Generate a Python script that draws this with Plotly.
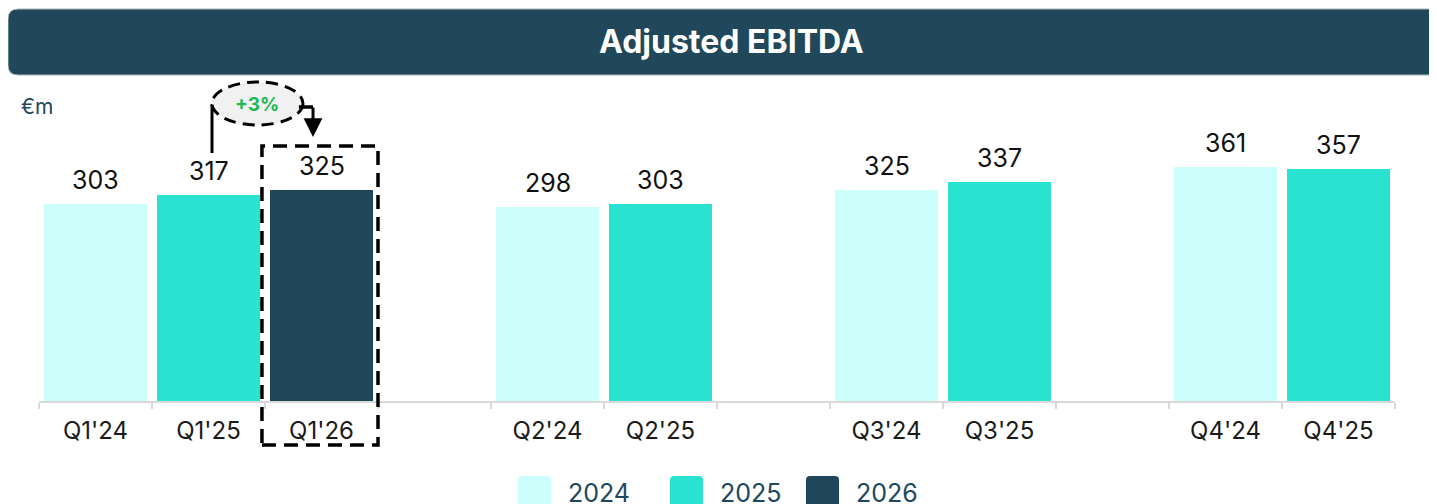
import plotly.graph_objects as go

# ---- data ----
categories = ["Q1'24", "Q1'25", "Q1'26", " ", "Q2'24", "Q2'25", "  ",
              "Q3'24", "Q3'25", "   ", "Q4'24", "Q4'25"]
x_2024 = ["Q1'24", "Q2'24", "Q3'24", "Q4'24"]
y_2024 = [303, 298, 325, 361]
x_2025 = ["Q1'25", "Q2'25", "Q3'25", "Q4'25"]
y_2025 = [317, 303, 337, 357]
x_2026 = ["Q1'26"]
y_2026 = [325]
spacers = [" ", "  ", "   "]
growth_label = "+3%"

C24, C25, C26 = "#CCFFFC", "#29E3D0", "#204759"
FONT = "Inter"

W, H = 1437, 504
OFF = 8  # page body margin
ML, MR, MT, MB = 31, 50, 82, 111
PW, PH = W - ML - MR, H - MT - MB


def px(xp):
    return (xp - OFF - ML) / PW


def py(yp):
    return (H - MB - (yp - OFF)) / PH


def rounded_rect(xl, xr, yt, yb, r):
    """Path (paper coords) for a rectangle given in page pixels, rounded corners."""
    rx, ry = r / PW, r / PH
    a, b, t, u = px(xl), px(xr), py(yt), py(yb)
    return (f"M {a+rx},{t} L {b-rx},{t} Q {b},{t} {b},{t-ry} L {b},{u+ry} "
            f"Q {b},{u} {b-rx},{u} L {a+rx},{u} Q {a},{u} {a},{u+ry} "
            f"L {a},{t-ry} Q {a},{t} {a+rx},{t} Z")


fig = go.Figure()
for name, xs, ys, col in [("2024", x_2024, y_2024, C24),
                          ("2025", x_2025, y_2025, C25),
                          ("2026", x_2026, y_2026, C26)]:
    fig.add_trace(go.Bar(x=xs, y=ys, name=name, marker_color=col,
                         marker_line_width=0, width=0.91, showlegend=False,
                         hoverinfo="x+y"))
fig.add_trace(go.Bar(x=spacers, y=[None] * len(spacers), showlegend=False,
                     hoverinfo="skip"))

# value labels
for xs, ys in [(x_2024, y_2024), (x_2025, y_2025), (x_2026, y_2026)]:
    for xv, yv in zip(xs, ys):
        fig.add_annotation(x=xv, y=yv, text=str(yv), showarrow=False,
                           yanchor="bottom", yshift=7,
                           font=dict(family=FONT, size=25, color="#111111"))

shapes = []
# title bar (rounded corners, right side beyond the visible page)
shapes.append(dict(type="path", xref="paper", yref="paper",
                   path=rounded_rect(8, 1470, 9, 75, 10),
                   fillcolor="#20475A", line=dict(color="#A9B8BE", width=1),
                   layer="above"))

# dashed highlight box around Q1'26
shapes.append(dict(type="rect", xref="x", yref="paper", x0=1.473, x1=2.5,
                   y0=py(445), y1=py(146),
                   line=dict(color="black", width=3.5, dash="14px,8px"),
                   fillcolor="rgba(0,0,0,0)", layer="above"))

# growth connector
shapes.append(dict(type="line", xref="x", yref="paper", x0=1.031, x1=1.031,
                   y0=py(153), y1=py(104), line=dict(color="black", width=3)))
shapes.append(dict(type="circle", xref="x", yref="paper", x0=1.031, x1=1.836,
                   y0=py(125), y1=py(82), fillcolor="#F1F1F1",
                   line=dict(color="black", width=3, dash="12px,7px")))
shapes.append(dict(type="line", xref="x", yref="paper", x0=1.80, x1=1.925,
                   y0=py(107), y1=py(107), line=dict(color="black", width=3.5)))

# legend squares
for x_left, col in [(518, C24), (670, C25), (806, C26)]:
    shapes.append(dict(type="path", xref="paper", yref="paper",
                       path=rounded_rect(x_left, x_left + 33, 476, 516, 4),
                       fillcolor=col, line=dict(width=0)))

fig.update_layout(shapes=shapes)

fig.add_annotation(x=1.925, y=py(137), xref="x", yref="paper", ax=0, ay=-31,
                   text="", showarrow=True, arrowhead=2, arrowsize=1.25,
                   arrowwidth=3, arrowcolor="black")
fig.add_annotation(x=(1.031 + 1.836) / 2, y=py(104), xref="x", yref="paper",
                   xanchor="center", yanchor="middle",
                   text=f"<b>{growth_label}</b>", showarrow=False,
                   font=dict(family=FONT, size=19, color="#1DB954"))

# title & unit
fig.add_annotation(x=px(731), y=py(41), xref="paper", yref="paper",
                   xanchor="center", yanchor="middle",
                   text="<b>Adjusted EBITDA</b>", showarrow=False,
                   font=dict(family=FONT, size=32, color="white"))
fig.add_annotation(x=px(19), y=py(106), xref="paper", yref="paper",
                   xanchor="left", yanchor="middle", text="€m", showarrow=False,
                   font=dict(family=FONT, size=21, color="#20475A"))

# legend labels
for x_left, lab in [(566, "2024"), (718, "2025"), (854, "2026")]:
    fig.add_annotation(x=px(x_left), y=py(493), xref="paper", yref="paper",
                       xanchor="left", yanchor="middle", text=lab,
                       showarrow=False,
                       font=dict(family=FONT, size=25, color="#20475A"))

fig.update_layout(
    width=W, height=H, margin=dict(l=ML, r=MR, t=MT, b=MB),
    paper_bgcolor="white", plot_bgcolor="white",
    barmode="overlay", bargap=0,
    xaxis=dict(type="category", categoryorder="array", categoryarray=categories,
               range=[-0.5, 11.5], tickson="boundaries", ticks="outside",
               ticklen=6, tickwidth=2, tickcolor="#D9D9D9",
               showline=True, linecolor="#D9D9D9", linewidth=2,
               showgrid=False, fixedrange=True, ticklabelstandoff=7,
               tickfont=dict(family=FONT, size=24, color="#1A1A1A")),
    yaxis=dict(range=[0, PH / 0.6495], visible=False, showgrid=False,
               fixedrange=True),
)

fig.write_html("out.html", config={"displayModeBar": False})
